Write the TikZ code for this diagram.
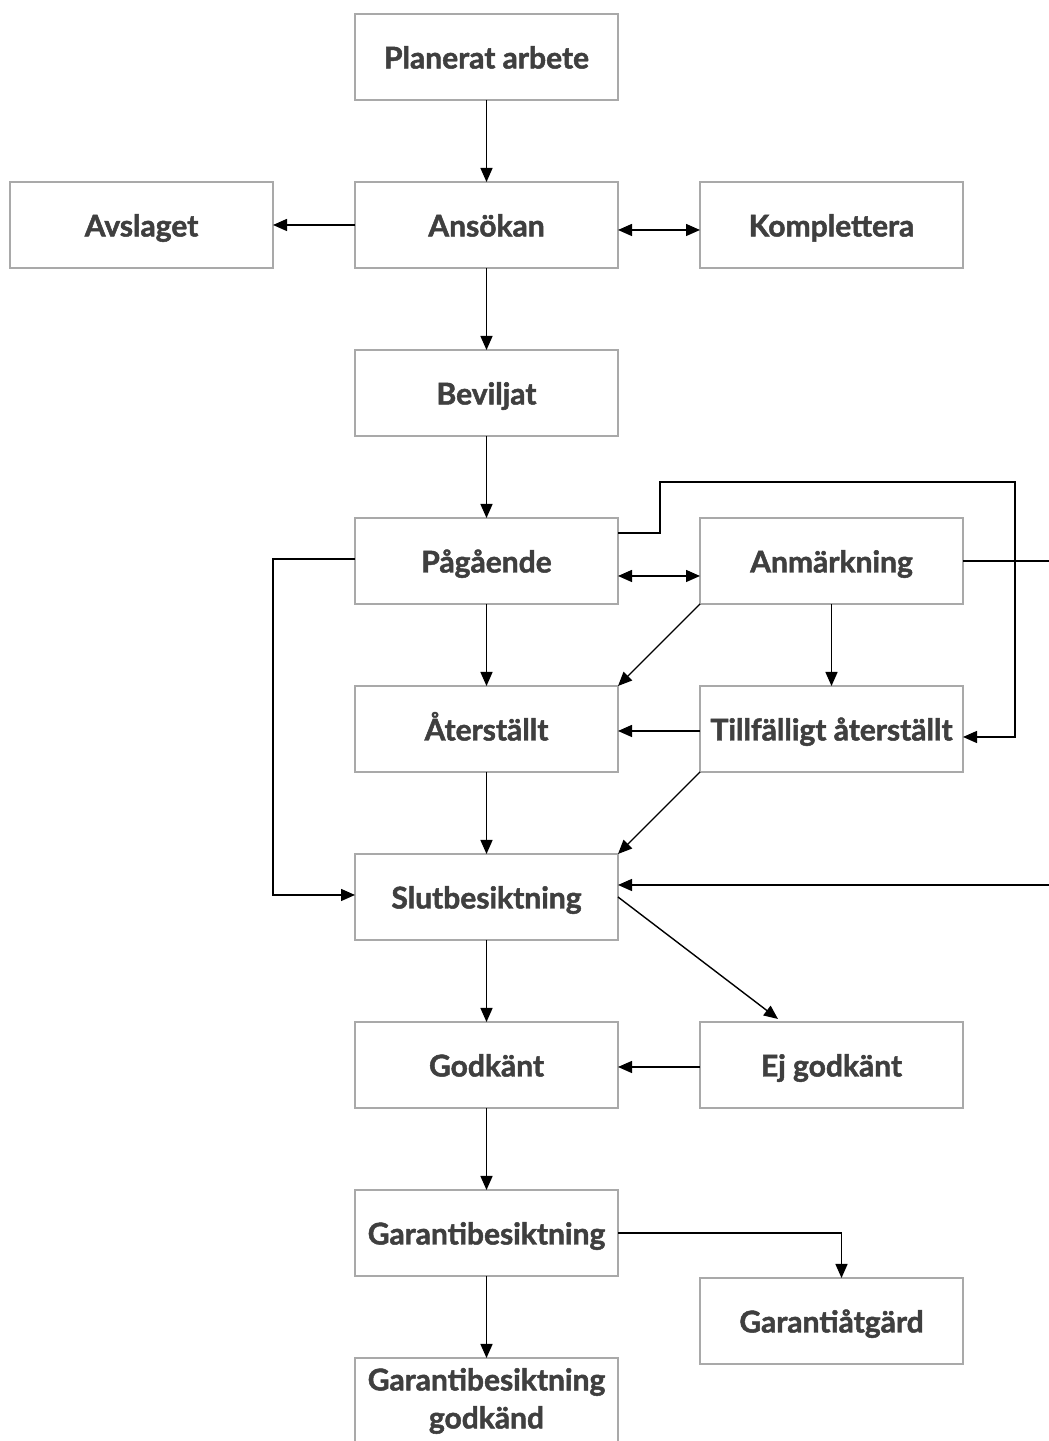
\documentclass[tikz,border=0pt]{standalone}
\usepackage{fontspec}
\setmainfont{Lato}[BoldFeatures={FakeBold=1.6}]
\usetikzlibrary{positioning,arrows.meta,calc}
\definecolor{grey700}{HTML}{3F3F3F}
\definecolor{grey400}{HTML}{A9A9A9}
\tikzset{
  box/.style ={draw=grey400, line width=1.4pt, fill=white, outer sep=0pt,
               minimum width=263pt, minimum height=86pt, inner sep=2pt,
               text height=23pt, text depth=0pt, text=grey700,
               font=\fontsize{30}{38}\selectfont\bfseries},
  box2/.style={box, align=center, text height={}, text depth={}},
  ar/.style  ={-{Triangle[length=14pt,width=12pt]}, draw=black,
               line width=1.4pt},
  arb/.style ={{Triangle[length=14pt,width=12pt]}-{Triangle[length=14pt,width=12pt]},
               draw=black, line width=1.4pt}
}
\begin{document}
\begin{tikzpicture}[node distance=82pt]
\useasboundingbox (0,0) rectangle (1049pt,1441pt);
\clip (0,0) rectangle (1049pt,1441pt);
\node[box] (plan) at (486.5pt,1384pt) {Planerat arbete};
\node[box, below=of plan] (ans) {Ansökan};
\node[box, left=of ans] (avs) {Avslaget};
\node[box, right=of ans] (kompl) {Komplettera};
\node[box, below=of ans] (bev) {Beviljat};
\node[box, below=of bev] (pag) {Pågående};
\node[box, right=of pag] (anm) {Anmärkning};
\node[box, below=of pag] (ater) {Återställt};
\node[box, right=of ater] (tater) {Tillfälligt återställt};
\node[box, below=of ater] (slut) {Slutbesiktning};
\node[box, below=of slut] (godk) {Godkänt};
\node[box, right=of godk] (ejg) {Ej godkänt};
\node[box, below=of godk] (garb) {Garantibesiktning};
\node[box, below right=2pt and 82pt of garb.south east, anchor=north west] (garat) {Garantiåtgärd};
\node[box2, below=of garb] (garbg) {Garantibesiktning\\godkänd};

\draw[ar] (plan) -- (ans);
\draw[ar] (ans) -- (avs);
\draw[arb] ([yshift=-5pt]ans.east) -- ([yshift=-5pt]kompl.west);
\draw[ar] (ans) -- (bev);
\draw[ar] (bev) -- (pag);
\draw[arb] ([yshift=-15pt]pag.east) -- ([yshift=-15pt]anm.west);
\draw[ar] ([yshift=28pt]pag.east) -- ++(42pt,0)
  |- ([xshift=52pt,yshift=79pt]anm.east) |- ([yshift=-8pt]tater.east);
\draw[ar] ([yshift=2pt]pag.west) -- ++(-82pt,0) |- ([yshift=2pt]slut.west);
\draw[ar] (pag) -- (ater);
\draw[ar] (anm.south west) -- (ater.north east);
\draw[ar] (anm) -- (tater);
\draw[ar] (anm.east) -- ++(120pt,0) |- ([yshift=12pt]slut.east);
\draw[ar] ([yshift=-2pt]tater.west) -- ([yshift=-2pt]ater.east);
\draw[ar] (tater.south west) -- (slut.north east);
\draw[ar] (ater) -- (slut);
\draw[ar] (slut.east) -- ([xshift=78pt,yshift=3pt]ejg.north west);
\draw[ar] (slut) -- (godk);
\draw[ar] ([yshift=-2pt]ejg.west) -- ([yshift=-2pt]godk.east);
\draw[ar] (godk) -- (garb);
\draw[ar] (garb.east) -| ([xshift=10pt]garat.north);
\draw[ar] (garb) -- (garbg);
\end{tikzpicture}
\end{document}
